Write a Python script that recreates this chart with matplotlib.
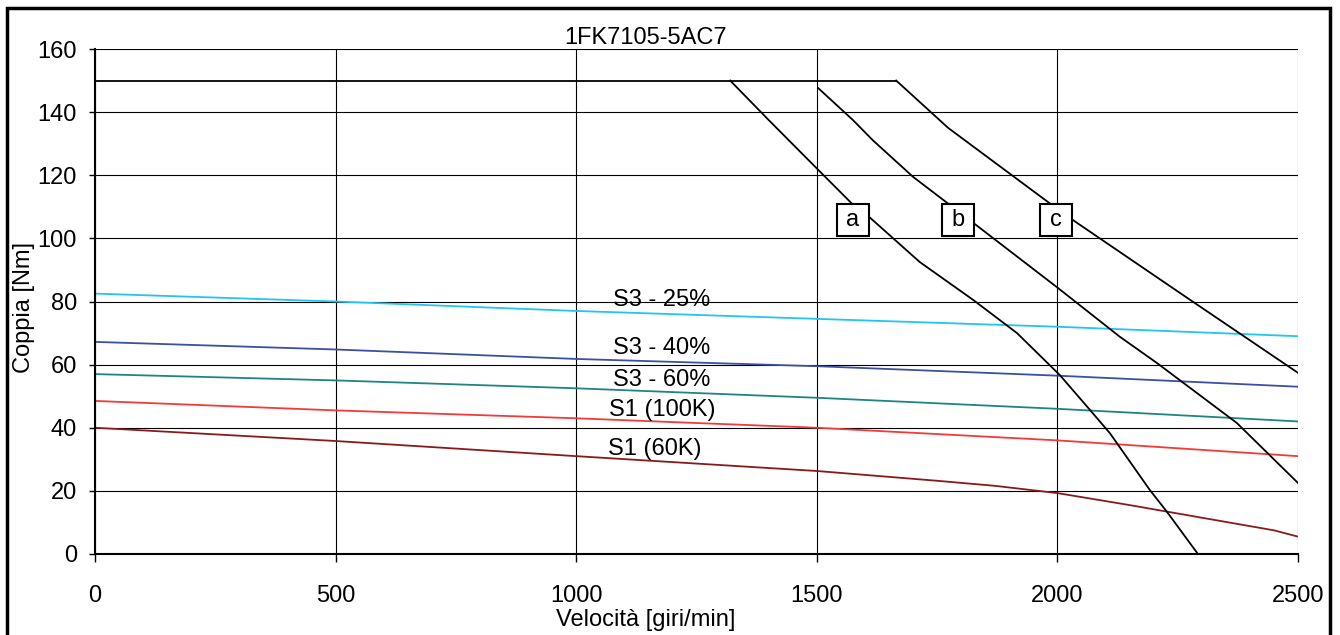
import matplotlib.pyplot as plt
from matplotlib.patches import Rectangle

plt.rcParams['font.family'] = ['Liberation Sans', 'DejaVu Sans']

# curve limite di coppia (a, b, c) e tratto costante
speed_max = [0, 1665]
torque_max = [150, 150]

speed_a = [1320, 1400, 1503, 1573, 1611, 1714, 1825, 1916, 2005, 2060, 2109, 2192, 2228, 2292]
torque_a = [150, 137.5, 121.7, 111, 106.5, 92.5, 80.5, 70, 56.7, 47, 38.3, 20.3, 13.3, 0]

speed_b = [1503, 1575, 1617, 1700, 1773, 1833, 2001, 2130, 2207, 2373, 2500]
torque_b = [147.6, 137.5, 131, 119.5, 111, 104, 84.3, 68.8, 60.5, 41.5, 22.5]

speed_c = [1665, 1773, 1985, 2040, 2276, 2500]
torque_c = [150, 135, 111, 105, 80.5, 57.4]

# curve di servizio
speed_s = [0, 500, 1000, 1500, 2000, 2500]
s3_25 = [82.5, 80, 77, 74.5, 72, 69]
s3_40 = [67.2, 64.8, 61.8, 59.5, 56.5, 53]
s3_60 = [57, 55, 52.5, 49.5, 46, 42]
s1_100k = [48.5, 45.5, 43, 40, 36, 31]

speed_60k = [0, 500, 1000, 1500, 1750, 1870, 2000, 2150, 2300, 2450, 2500]
s1_60k = [40, 35.8, 31, 26.3, 23.2, 21.6, 19.3, 15.5, 11.5, 7.5, 5.5]

fig = plt.figure(figsize=(13.4, 6.35), dpi=100)
ax = fig.add_axes([95 / 1340, 1 - 554 / 635, 1203 / 1340, 505 / 635])

ax.plot(speed_s, s3_25, color='#22C4F0', lw=1.3)
ax.plot(speed_s, s3_40, color='#3A50A2', lw=1.3)
ax.plot(speed_s, s3_60, color='#1E8484', lw=1.3)
ax.plot(speed_s, s1_100k, color='#F23A3A', lw=1.3)
ax.plot(speed_60k, s1_60k, color='#8A1A1A', lw=1.3)

for sx, ty in [(speed_max, torque_max), (speed_a, torque_a),
               (speed_b, torque_b), (speed_c, torque_c)]:
    ax.plot(sx, ty, color='black', lw=1.3)

ax.set_xlim(0, 2500)
ax.set_ylim(0, 160)
ax.set_xticks(range(0, 2501, 500))
ax.set_yticks(range(0, 161, 20))
ax.grid(True, color='black', lw=0.8)
ax.set_axisbelow(True)
for side in ['top', 'right']:
    ax.spines[side].set_visible(False)
for side in ['left', 'bottom']:
    ax.spines[side].set_linewidth(1.5)
ax.tick_params(axis='x', direction='out', length=6, width=1, pad=16, labelsize=17)
ax.tick_params(axis='y', direction='out', length=4, width=1, pad=9, labelsize=17)

# etichette delle curve
ax.text(1178, 80.5, 'S3 - 25%', fontsize=17, ha='center', va='center')
ax.text(1178, 65.3, 'S3 - 40%', fontsize=17, ha='center', va='center')
ax.text(1178, 55.1, 'S3 - 60%', fontsize=17, ha='center', va='center')
ax.text(1178, 45.6, 'S1 (100K)', fontsize=17, ha='center', va='center')
ax.text(1164, 33.3, 'S1 (60K)', fontsize=17, ha='center', va='center')

# riquadri con le lettere delle curve
box_x = [1575, 1793, 1997]
box_lab = ['a', 'b', 'c']
for lab, xs in zip(box_lab, box_x):
    ax.plot(xs, 105.8, marker='s', ms=23, mfc='white', mec='black', mew=1.5, zorder=4)
    ax.text(xs, 105.8, lab, fontsize=17, ha='center', va='center', zorder=5)

fig.text(646 / 1340, 1 - 38 / 635, '1FK7105-5AC7', fontsize=17, ha='center', va='center')
fig.text(646 / 1340, 1 - 620 / 635, 'Velocità [giri/min]', fontsize=17, ha='center', va='center')
fig.text(24 / 1340, 1 - 308 / 635, 'Coppia [Nm]', fontsize=17, ha='center', va='center',
         rotation=90)

# cornice esterna
fig.patches.append(Rectangle((7 / 1340, -0.05), 1323 / 1340, 1.05 - 8 / 635,
                             transform=fig.transFigure, fill=False, ec='black', lw=2.5))

fig.savefig('out.png', dpi=100)
